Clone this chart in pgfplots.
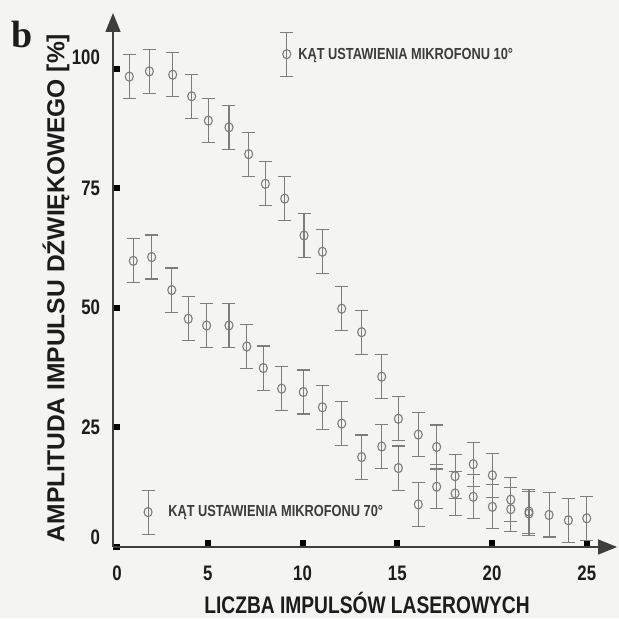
\documentclass[border=0pt]{standalone}
\usepackage{fontspec}
\setmainfont{Liberation Sans}
\newfontface\nb[FakeStretch=0.8]{Liberation Sans Bold}
\newfontface\nbw{Liberation Sans Bold}
\newfontface\serifb{Liberation Serif Bold}
\usepackage{pgfplots}
\pgfplotsset{compat=1.18}
\usetikzlibrary{arrows.meta}
\definecolor{bg}{RGB}{244,244,242}
\definecolor{pt}{RGB}{125,125,125}
\definecolor{txt}{RGB}{60,60,60}
\definecolor{tk}{RGB}{28,28,28}
\begin{document}
\begin{tikzpicture}
\path[use as bounding box, fill=bg] (0,0) rectangle (309.5pt,309pt);
\begin{axis}[
  at={(56.5pt,35.5pt)}, anchor=south west, scale only axis,
  x=9.475pt, y=2.3925pt,
  xmin=0, xmax=26.6, ymin=0, ymax=111.6,
  axis lines=left,
  axis line style={draw=tk!85, line width=0.75pt, -{Triangle[length=9.5pt,width=7.5pt]}},
  tick align=inside,
  major tick length=3.5pt,
  tick style={line width=3pt, color=black},
  xtick={5,10,15,20,25},
  xticklabels={5,10,15,20,25},
  extra x ticks={0},
  extra x tick labels={0},
  extra x tick style={major tick length=0pt, xticklabel style={xshift=2pt}},
  ytick={0,25,50,75,100},
  yticklabels={{\raisebox{10pt}{0}},25,50,75,{\raisebox{11pt}{100}}},
  ticklabel style={font=\nb\fontsize{10.5}{12}\selectfont, text=tk},
  xticklabel style={yshift=-6pt},
  yticklabel style={xshift=-3pt},
  clip=false,
]
\addplot[only marks, mark=o, mark size=2pt, color=pt,
  mark options={line width=0.55pt, yscale=1.15},
  error bars/.cd, y dir=both, y fixed=4.6,
  error bar style={line width=0.55pt, color=pt},
  error mark options={rotate=90, mark size=3.25pt, line width=0.55pt, color=pt}]
coordinates {
(0.86,98.3) (1.92,99.4) (3.15,98.7) (4.15,94.2) (5.03,89.1)
(6.12,87.7) (7.16,82.1) (8.04,75.9) (9.06,72.8) (10.08,65.1)
(11.05,61.7) (12.07,49.8) (13.12,44.9) (14.18,35.6) (15.06,26.8)
(16.11,23.5) (17.08,20.9) (18.05,14.8) (19.01,17.3) (20.02,15.0)
(20.99,9.9) (21.95,7.4) (23.01,6.7) (24.03,5.6) (25.0,6.0)
};
\addplot[only marks, mark=o, mark size=2pt, color=pt,
  mark options={line width=0.55pt, yscale=1.15},
  error bars/.cd, y dir=both, y fixed=4.6,
  error bar style={line width=0.55pt, color=pt},
  error mark options={rotate=90, mark size=3.25pt, line width=0.55pt, color=pt}]
coordinates {
(1.07,59.8) (2.04,60.6) (3.10,53.7) (3.97,47.7) (4.94,46.3)
(6.12,46.3) (7.06,41.9) (7.93,37.4) (8.90,33.1) (10.04,32.4)
(11.05,29.2) (12.07,25.8) (13.12,18.8) (14.18,21.0) (15.06,16.5)
(16.11,8.9) (17.08,12.6) (18.05,11.2) (19.01,10.5) (20.02,8.4)
(20.99,7.9) (21.95,7.0)
};
% legend markers
\addplot[only marks, mark=o, mark size=2pt, color=pt,
  mark options={line width=0.55pt, yscale=1.15},
  error bars/.cd, y dir=both, y fixed=4.6,
  error bar style={line width=0.55pt, color=pt},
  error mark options={rotate=90, mark size=3.25pt, line width=0.55pt, color=pt}]
coordinates {(9.17,103.0) (1.85,7.3)};
\node[anchor=west, inner sep=0pt, text=txt, font=\nb\fontsize{8}{9}\selectfont] at (axis cs:9.76,102.8) {KĄT USTAWIENIA MIKROFONU 10°};
\node[anchor=west, inner sep=0pt, text=txt, font=\nb\fontsize{8}{9}\selectfont] at (axis cs:2.9,7.3) {KĄT USTAWIENIA MIKROFONU 70°};
\end{axis}
\node[rotate=90, text=tk, font=\nbw\fontsize{12.3}{14}\selectfont] at (28pt,165pt) {AMPLITUDA IMPULSU DŹWIĘKOWEGO [\%]};
\node[text=tk, font=\nb\fontsize{12}{14}\selectfont] at (183.5pt,7.5pt) {LICZBA IMPULSÓW LASEROWYCH};
\node[text=tk, font=\serifb\fontsize{19}{22}\selectfont] at (11pt,291.5pt) {b};
\end{tikzpicture}
\end{document}
